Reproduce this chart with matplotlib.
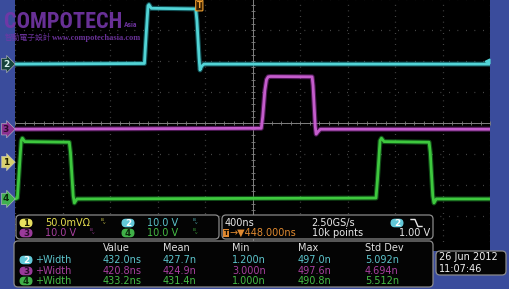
import matplotlib
matplotlib.use('Agg')
import matplotlib.pyplot as plt
from matplotlib.patches import FancyBboxPatch, Rectangle
from matplotlib.transforms import blended_transform_factory
from matplotlib import font_manager
import numpy as np

# ---------------- data ----------------
time_per_div_ns = 400.0
horiz_delay_ns = 448.0
n_hdiv = 10
n_vdiv = 8

ch_names = ['1', '2', '3', '4']
volts_per_div = [0.05, 10.0, 10.0, 10.0]
ch_offset_div = [-1.26, 1.90, -0.20, -2.45]
trigger_level_v = 1.00

ch2_t = [-1552, -462, -450, -432, -424, -404, -30, -20, -2, 6, 22, 40, 2448]
ch2_v = [0.0, 0.2, 8.0, 18.8, 19.2, 18.0, 17.8, 14.0, 2.0, -1.9, -0.6, 0.0, 0.0]

ch3_t = [-1552, 522, 534, 552, 566, 580, 600, 950, 958, 976, 984, 1000, 1020, 2448]
ch3_v = [0.0, 0.3, 4.0, 12.5, 16.0, 16.9, 17.0, 16.9, 14.0, 1.0, -1.6, -0.8, 0.0, 0.0]

ch4_t = [-1552, -1532, -1522, -1500, -1490, -1470, -1095, -1085, -1062, -1052, -1030,
         1488, 1500, 1522, 1534, 1556, 1935, 1945, 1966, 1976, 1996, 2448]
ch4_v = [0.0, 0.3, 6.0, 18.8, 19.6, 18.5, 18.3, 15.0, 1.0, -1.3, 0.0,
         0.3, 6.0, 18.8, 19.6, 18.5, 18.3, 15.0, 1.0, -1.3, 0.0, 0.0]

ch_scale_text = ['50.0mV\u03a9', '10.0 V', '10.0 V', '10.0 V']
timebase_text = '400ns'
sample_rate_text = '2.50GS/s'
record_text = '10k points'
delay_text = '\u2192\u25bc448.000ns'
trig_level_text = '1.00 V'

meas_header = ['Value', 'Mean', 'Min', 'Max', 'Std Dev']
meas_channels = ['2', '3', '4']
meas_name = ['+Width', '+Width', '+Width']
meas_value = ['432.0ns', '420.8ns', '433.2ns']
meas_mean = ['427.7n', '424.9n', '431.4n']
meas_min = ['1.200n', '3.000n', '1.000n']
meas_max = ['497.0n', '497.6n', '490.8n']
meas_std = ['5.092n', '4.694n', '5.512n']

date_text = '26 Jun 2012'
clock_text = '11:07:46'

# ---------------- style ----------------
plt.rcParams['font.family'] = ['DejaVu Sans']
BLUE = '#3a4c9c'
col_core = {'1': '#e6dc50', '2': '#52d4d6', '3': '#c45ccc', '4': '#3ec83e'}
col_halo = {'1': '#a09a30', '2': '#1f8f98', '3': '#8a2c96', '4': '#1f8a2a'}
col_text = {'1': '#e8e050', '2': '#5cc4cc', '3': '#a8409f', '4': '#44bc44'}
badge_fc = {'1': '#e8e060', '2': '#62c8d8', '3': '#9a3a9a', '4': '#40b048'}
badge_tc = {'1': '#202000', '2': '#ffffff', '3': '#2a0a2a', '4': '#0a2a0a'}

W, H = 509, 289
fig = plt.figure(figsize=(W / 100, H / 100), dpi=100)
fig.patch.set_facecolor(BLUE)

# graticule axes (pixel box x 15..490, y -1..247)
gx0, gx1, gy0, gy1 = 15, 490, -1, 247
ax = fig.add_axes([gx0 / W, (H - gy1) / H, (gx1 - gx0) / W, (gy1 - gy0) / H])
ax.set_facecolor('black')
t_left = horiz_delay_ns - n_hdiv / 2 * time_per_div_ns
t_right = horiz_delay_ns + n_hdiv / 2 * time_per_div_ns
ax.set_xlim(t_left, t_right)
ax.set_ylim(-n_vdiv / 2, n_vdiv / 2)
ax.set_xticks([])
ax.set_yticks([])
for s in ax.spines.values():
    s.set_visible(False)

grid_c = '#5c5c5c'
for k in range(-5, 6):
    ax.axvline(horiz_delay_ns + k * time_per_div_ns, color=grid_c, lw=0.9,
               ls=(0, (0.6, 3.9)), zorder=1)
for j in range(-4, 5):
    ax.axhline(j, color=grid_c, lw=0.9, ls=(0, (0.6, 6.2)), zorder=1)
ax.axhline(0, color='#808080', lw=0.7, zorder=1)
ax.axvline(horiz_delay_ns, color='#808080', lw=0.7, zorder=1)
ax.plot(horiz_delay_ns + np.arange(-25, 26) * time_per_div_ns / 5,
        np.zeros(51), ls='none', marker='|', ms=3.5, mew=0.6, color='#808080', zorder=1)
ax.plot(np.full(41, horiz_delay_ns), np.arange(-20, 21) * 0.2,
        ls='none', marker='_', ms=3.5, mew=0.6, color='#808080', zorder=1)

traces = {'2': (ch2_t, ch2_v), '3': (ch3_t, ch3_v), '4': (ch4_t, ch4_v)}
for name, (tt, vv) in traces.items():
    i = ch_names.index(name)
    y = ch_offset_div[i] + np.array(vv) / volts_per_div[i]
    ax.plot(tt, y, color=col_halo[name], lw=3.6, alpha=0.55, solid_joinstyle='round', zorder=3)
    ax.plot(tt, y, color=col_core[name], lw=2.0, solid_joinstyle='round', zorder=4)

# channel ground markers on left
btr = blended_transform_factory(ax.transAxes, ax.transData)
mark_fc = {'1': '#d8d070', '2': '#17443c', '3': '#8a3090', '4': '#40b050'}
mark_tc = {'1': '#202000', '2': '#d8f4f0', '3': '#2a0a2a', '4': '#0a2a0a'}
for i, name in enumerate(ch_names):
    ax.text(-0.019, ch_offset_div[i], name, transform=btr, ha='center', va='center',
            fontsize=6.5, fontweight='bold', color=mark_tc[name], clip_on=False, zorder=6,
            bbox=dict(boxstyle='rarrow,pad=0.14', fc=mark_fc[name], ec='#c0c0c0', lw=0.4))

# trigger position marker at top
ttr = blended_transform_factory(ax.transData, ax.transAxes)
ax.text(0.0, 0.992, 'T', transform=ttr, ha='center', va='top', fontsize=5.5,
        fontweight='bold', color='#f0a030', clip_on=False, zorder=6,
        bbox=dict(boxstyle='round,pad=0.12', fc='#3a2000', ec='#f0a030', lw=0.8))
# trigger level marker (ch2) at right
i2 = ch_names.index('2')
ax.plot([t_right - 0.06 * time_per_div_ns],
        [ch_offset_div[i2] + trigger_level_v / volts_per_div[i2]],
        marker='<', ms=3.5, color=col_core['2'], ls='none', clip_on=False, zorder=6)

# ---------------- overlay (pixel coordinates) ----------------
ov = fig.add_axes([0, 0, 1, 1], zorder=5)
ov.set_xlim(0, W)
ov.set_ylim(H, 0)
ov.patch.set_alpha(0)
ov.axis('off')

ov.add_patch(Rectangle((gx0, 246), gx1 - gx0, 5, fc='black', ec='none'))

def box(x0, y0, x1, y1):
    ov.add_patch(FancyBboxPatch((x0, y0), x1 - x0, y1 - y0,
                                boxstyle='round,pad=0,rounding_size=4',
                                fc='#040404', ec='#8a8a8a', lw=0.9))

def badge(cx, cy, name):
    ov.add_patch(FancyBboxPatch((cx - 6.5, cy - 4.3), 13, 8.6,
                                boxstyle='round,pad=0,rounding_size=4.3',
                                fc=badge_fc[name], ec='none'))
    ov.text(cx, cy + 0.3, name, ha='center', va='center', fontsize=6.3,
            fontweight='bold', color=badge_tc[name])

FS = 7.0
box(16, 215, 219, 239)
box(222, 215, 433, 239)
box(14, 241, 433, 287)
box(436, 251, 506, 275)

# channel readouts
rows = {'1': (26, 223), '2': (128, 223), '3': (26, 233), '4': (128, 233)}
bw_x = {'1': 101, '2': 193, '3': 90, '4': 193}
for i, name in enumerate(ch_names):
    cx, cy = rows[name]
    badge(cx, cy, name)
    ov.text(cx + 19, cy, ch_scale_text[i], ha='left', va='center', fontsize=FS,
            color=col_text[name])
    ov.text(bw_x[name], cy - 0.5, '\u1d2e\u1d65', ha='left', va='center', fontsize=5,
            color=col_text[name], alpha=0.8)

# timebase readouts
ov.text(225, 223, timebase_text, ha='left', va='center', fontsize=FS, color='#e8e8e8')
ov.text(311, 223, sample_rate_text, ha='left', va='center', fontsize=FS, color='#e8e8e8')
badge(397, 223, '2')
ov.plot([411, 415, 418, 422], [219.5, 219.5, 226.5, 226.5], color='#e8e8e8', lw=1.0)
ov.text(226, 233, 'T', ha='center', va='center', fontsize=5, fontweight='bold',
        color='#1a1000', bbox=dict(boxstyle='square,pad=0.12', fc='#e08830', ec='none'))
ov.text(230, 233, delay_text, ha='left', va='center', fontsize=FS, color='#e08a30')
ov.text(312, 233, record_text, ha='left', va='center', fontsize=FS, color='#e8e8e8')
ov.text(430, 233, trig_level_text, ha='right', va='center', fontsize=FS, color='#e8e8e8')

# measurement table
col_x = [103, 163, 232, 298, 365]
for x, h in zip(col_x, meas_header):
    ov.text(x, 248, h, ha='left', va='center', fontsize=FS, color='#e0e0e0')
row_y = [260, 271, 281]
for r, name in enumerate(meas_channels):
    y = row_y[r]
    badge(26, y, name)
    vals = [meas_value[r], meas_mean[r], meas_min[r], meas_max[r], meas_std[r]]
    ov.text(35, y, meas_name[r], ha='left', va='center', fontsize=FS, color=col_text[name])
    for x, v in zip(col_x, vals):
        ov.text(x, y, v, ha='left', va='center', fontsize=FS, color=col_text[name])

# date / time
ov.text(439, 257.5, date_text, ha='left', va='center', fontsize=FS, color='#f0f0f0')
ov.text(439, 268.5, clock_text, ha='left', va='center', fontsize=FS, color='#f0f0f0')

# watermark
names = {f.name for f in font_manager.fontManager.ttflist}
narrow = None
for cand, fsz in [('Roboto Condensed', 16), ('Liberation Sans Narrow', 16),
                  ('DejaVu Sans Condensed', 13)]:
    if cand in names:
        narrow, wm_fs = cand, fsz
        break
if narrow is None:
    narrow, wm_fs = 'DejaVu Sans', 11.0
wm = '#7436a8'
ov.text(4, 28, 'COMPOTECH', ha='left', va='baseline', fontsize=wm_fs,
        fontweight='bold', family=[narrow], color=wm, alpha=0.9)
ov.text(124, 27, 'Asia', ha='left', va='baseline', fontsize=5.5, fontweight='bold',
        family=[narrow], color=wm, alpha=0.9)
ov.text(5, 37.5, '\u667a\u52d5\u96fb\u5b50\u8a2d\u8a08', ha='left', va='center', fontsize=5.6,
        family=['Noto Sans CJK TC', 'DejaVu Sans'], color=wm, alpha=0.9)
ov.text(52, 37.5, 'www.compotechasia.com', ha='left', va='center', fontsize=6,
        fontweight='bold', family=['Liberation Serif', 'DejaVu Serif'], color=wm, alpha=0.9)

fig.savefig('out.png', dpi=100, facecolor=fig.get_facecolor())
